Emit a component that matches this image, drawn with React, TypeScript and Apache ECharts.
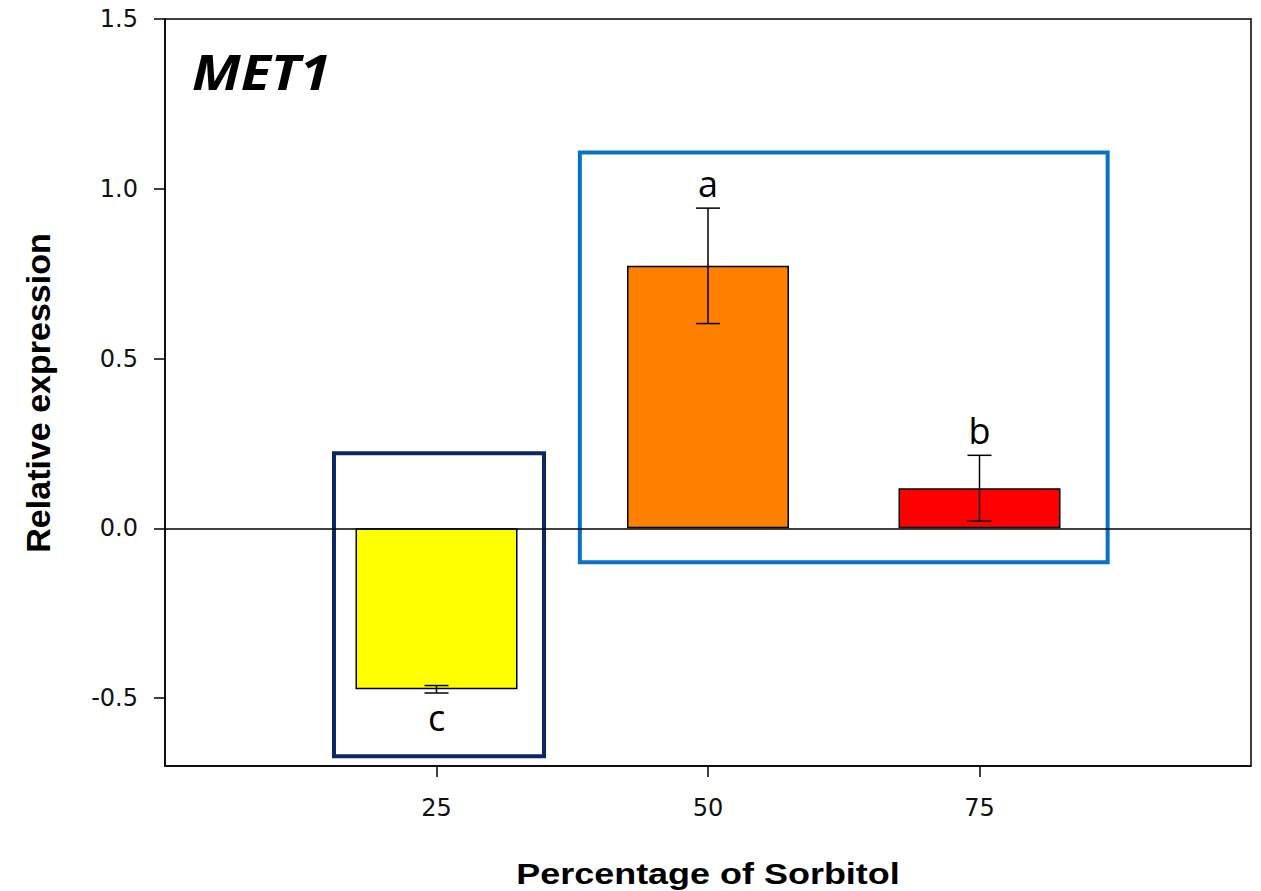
import React, { useEffect, useRef } from "react";
import * as echarts from "echarts";

const categories = [25, 50, 75];
const means = [-0.474, 0.773, 0.118];
const errors = [0.011, 0.17, 0.097];
const letters = ["c", "a", "b"];
const barColors = ["#ffff00", "#ff8000", "#ff0000"];
const yTicks = [-0.5, 0, 0.5, 1.0, 1.5];
const xTicks = [25, 50, 75];
// annotation boxes in data coordinates: [x0, y0, x1, y1]
const boxNavy = [15.56, 0.221, 34.9, -0.671];
const boxBlue = [38.2, 1.107, 86.8, -0.1];

export default function App() {
  const ref = useRef<HTMLDivElement>(null);
  useEffect(() => {
    const chart = echarts.init(ref.current!, null, { renderer: "svg" });
    const tickFont = '"DejaVu Sans", sans-serif';
    const option: any = {
      animation: false,
      backgroundColor: "#ffffff",
      grid: {
        left: 165,
        right: 10,
        top: 19,
        bottom: 125,
        show: true,
        borderColor: "#000",
        borderWidth: 1.5,
        backgroundColor: "transparent",
      },
      xAxis: {
        type: "value",
        min: 0,
        max: 100,
        axisLine: { show: true, onZero: false, lineStyle: { color: "#000", width: 1.5 } },
        axisTick: { show: true, length: 11, customValues: xTicks, lineStyle: { color: "#000", width: 1.5 } },
        axisLabel: {
          customValues: xTicks,
          margin: 30,
          fontFamily: tickFont,
          fontSize: 24,
          color: "#111",
        },
        splitLine: { show: false },
      },
      yAxis: {
        type: "value",
        min: -0.7,
        max: 1.5,
        axisLine: { show: true, onZero: false, lineStyle: { color: "#000", width: 1.5 } },
        axisTick: { show: true, length: 11, customValues: yTicks, lineStyle: { color: "#000", width: 1.5 } },
        axisLabel: {
          customValues: yTicks,
          margin: 27,
          fontFamily: tickFont,
          fontSize: 24,
          color: "#111",
          formatter: (v: number) => v.toFixed(1),
        },
        splitLine: { show: false },
      },
      graphic: [
        {
          type: "text",
          x: 192,
          y: 71,
          scaleX: 1.13,
          style: {
            text: "MET1",
            font: 'italic bold 49px "Open Sans"',
            fill: "#000",
            align: "left",
            verticalAlign: "middle",
          },
        },
        {
          type: "text",
          x: 708,
          y: 874,
          scaleX: 1.24,
          style: {
            text: "Percentage of Sorbitol",
            font: 'bold 29px "Liberation Sans", Arial, sans-serif',
            fill: "#000",
            align: "center",
            verticalAlign: "middle",
          },
        },
        {
          type: "text",
          x: 38,
          y: 393,
          rotation: Math.PI / 2,
          style: {
            text: "Relative expression",
            font: 'bold 34px "Liberation Sans", Arial, sans-serif',
            fill: "#000",
            align: "center",
            verticalAlign: "middle",
          },
        },
      ],
      series: [
        {
          type: "bar",
          barWidth: 162,
          data: categories.map((c, i) => ({
            value: [c, means[i]],
            itemStyle: { color: barColors[i], borderColor: "#000", borderWidth: 1.5 },
          })),
          markLine: {
            silent: true,
            symbol: "none",
            label: { show: false },
            lineStyle: { color: "#000", width: 1.5, type: "solid" },
            data: [{ yAxis: 0 }],
          },
          markArea: {
            silent: true,
            label: { show: false },
            data: [
              [
                {
                  xAxis: boxNavy[0],
                  yAxis: boxNavy[1],
                  itemStyle: { color: "rgba(0,0,0,0)", borderColor: "#0c2762", borderWidth: 4 },
                },
                { xAxis: boxNavy[2], yAxis: boxNavy[3] },
              ],
              [
                {
                  xAxis: boxBlue[0],
                  yAxis: boxBlue[1],
                  itemStyle: { color: "rgba(0,0,0,0)", borderColor: "#0a72c4", borderWidth: 4 },
                },
                { xAxis: boxBlue[2], yAxis: boxBlue[3] },
              ],
            ],
          },
        },
        {
          type: "custom",
          z: 5,
          clip: false,
          data: categories.map((c, i) => [c, means[i] - errors[i], means[i] + errors[i]]),
          encode: { x: 0, y: [1, 2] },
          renderItem: (params: any, api: any) => {
            const x = api.value(0);
            const lo = api.value(1);
            const hi = api.value(2);
            const pHi = api.coord([x, hi]);
            const pLo = api.coord([x, lo]);
            const cap = 12;
            const idx = params.dataIndex;
            const above = means[idx] >= 0;
            const ty = above ? pHi[1] - 25 : pLo[1] + 25;
            const st = { stroke: "#000", lineWidth: 1.5 };
            return {
              type: "group",
              children: [
                { type: "line", shape: { x1: pHi[0], y1: pHi[1], x2: pLo[0], y2: pLo[1] }, style: st },
                { type: "line", shape: { x1: pHi[0] - cap, y1: pHi[1], x2: pHi[0] + cap, y2: pHi[1] }, style: st },
                { type: "line", shape: { x1: pLo[0] - cap, y1: pLo[1], x2: pLo[0] + cap, y2: pLo[1] }, style: st },
                {
                  type: "text",
                  x: pHi[0],
                  y: ty,
                  style: {
                    text: letters[idx],
                    font: '36px "Open Sans"',
                    fill: "#000",
                    align: "center",
                    verticalAlign: "middle",
                  },
                },
              ],
            };
          },
        },
      ],
    };
    chart.setOption(option);
    return () => chart.dispose();
  }, []);
  return (
    <div
      ref={ref}
      style={{ position: "absolute", left: 0, top: 0, width: 1261, height: 891 }}
    />
  );
}
